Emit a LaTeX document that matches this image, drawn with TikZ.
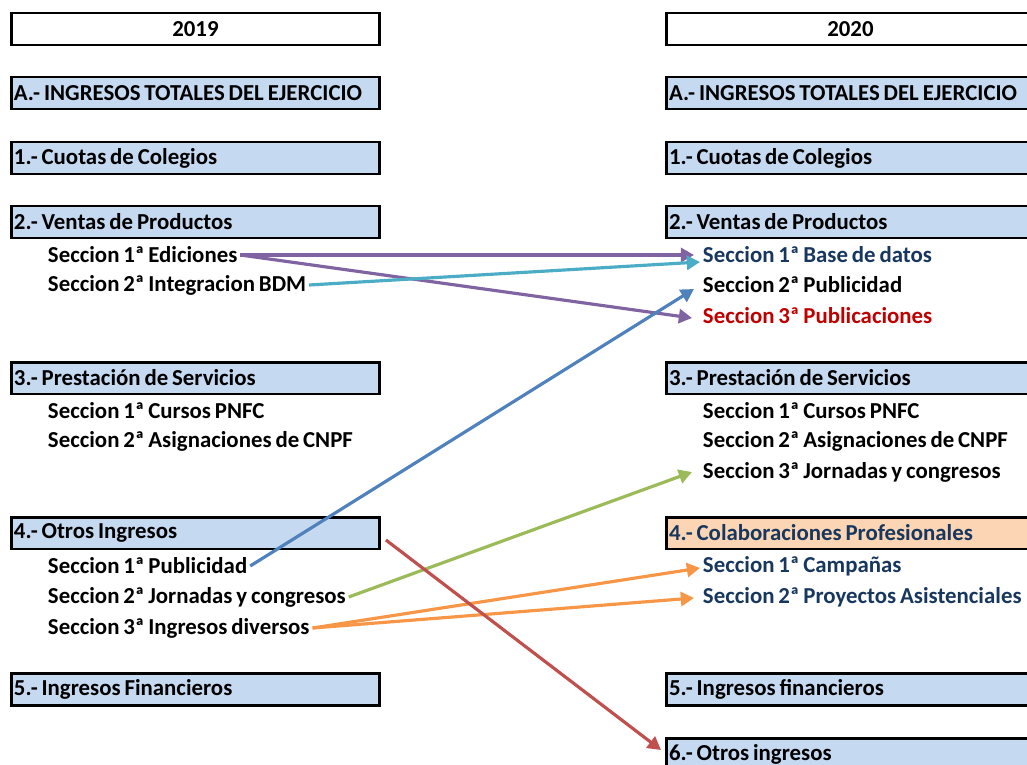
\documentclass[tikz,border=0pt]{standalone}
\usepackage{fontspec}
\setmainfont{Carlito}[WordSpace=0.75]
\usetikzlibrary{arrows.meta}
\hyphenpenalty=10000
\definecolor{boxblue}{RGB}{197,217,241}
\definecolor{boxpeach}{RGB}{252,213,180}
\definecolor{navy}{RGB}{23,55,94}
\definecolor{darkred}{RGB}{192,0,0}
\definecolor{apurple}{RGB}{128,100,162}
\definecolor{acyan}{RGB}{75,172,198}
\definecolor{ablue}{RGB}{79,129,189}
\definecolor{agreen}{RGB}{155,187,89}
\definecolor{aorange}{RGB}{247,150,70}
\definecolor{ared}{RGB}{192,80,77}

\begin{document}
\begin{tikzpicture}[x=0.02cm,y=-0.02cm,
  every node/.style={font=\fontsize{13}{15}\selectfont\bfseries},
  yearbox/.style={draw,line width=1.7pt,fill=white,anchor=west,
    minimum width=7.36cm,minimum height=0.64cm,inner xsep=0.05cm,
    text width=7.26cm,align=center},
  secbox/.style={yearbox,fill=boxblue,align=flush left},
  item/.style={anchor=west,inner sep=1.5pt},
  link/.style={line width=1.8pt,-{Triangle[length=7.5pt,width=8pt]}}
]
\useasboundingbox (0,0) rectangle (1027,764);

% 2019
\node[yearbox] (ly) at (10,29) {2019};
\foreach \n/\y/\t in {lA/93/A.- INGRESOS TOTALES DEL EJERCICIO,
    l1/158/1.- Cuotas de Colegios, l2/222/2.- Ventas de Productos,
    l3/378/3.- Prestación de Servicios, l4/533/4.- Otros Ingresos,
    l5/689/5.- Ingresos Financieros}
  \node[secbox] (\n) at (10,\y) {\t};
\foreach \n/\y/\t in {l2a/255/Seccion 1ª Ediciones,
    l2b/285/Seccion 2ª Integracion BDM, l3a/411/Seccion 1ª Cursos PNFC,
    l3b/441/Seccion 2ª Asignaciones de CNPF, l4a/566/Seccion 1ª Publicidad,
    l4b/597/Seccion 2ª Jornadas y congresos,
    l4c/628/Seccion 3ª Ingresos diversos}
  \node[item] (\n) at (45,\y) {\t};

% 2020
\node[yearbox] (ry) at (665,29) {2020};
\foreach \n/\y/\t in {rA/93/A.- INGRESOS TOTALES DEL EJERCICIO,
    r1/158/1.- Cuotas de Colegios, r2/222/2.- Ventas de Productos,
    r3/378/3.- Prestación de Servicios, r5/689/5.- Ingresos financieros,
    r6/754/6.- Otros ingresos}
  \node[secbox] (\n) at (665,\y) {\t};
\node[secbox,fill=boxpeach,text=navy] (r4) at (665,533)
  {4.- Colaboraciones Profesionales};
\foreach \n/\y/\c/\t in {r2a/255/navy/Seccion 1ª Base de datos,
    r2b/285/black/Seccion 2ª Publicidad,
    r2c/316/darkred/Seccion 3ª Publicaciones,
    r3a/411/black/Seccion 1ª Cursos PNFC,
    r3b/441/black/Seccion 2ª Asignaciones de CNPF,
    r3c/472/black/Seccion 3ª Jornadas y congresos,
    r4a/566/navy/Seccion 1ª Campañas,
    r4b/597/navy/Seccion 2ª Proyectos Asistenciales}
  \node[item,text=\c] (\n) at (700,\y) {\t};

% Arrows
\draw[link,apurple] (l2a.east) -- ([shift={(-6,0)}]r2a.west);
\draw[link,apurple] (l2a.east) -- ([shift={(-8,2)}]r2c.west);
\draw[link,acyan] (l2b.east) -- ([shift={(0,7)}]r2a.west);
\draw[link,ablue] (l4a.east) -- ([shift={(-6,4)}]r2b.west);
\draw[link,agreen] (l4b.east) -- ([shift={(-8,0)}]r3c.west);
\draw[link,aorange] (l4c.east) -- ([shift={(0,2)}]r4a.west);
\draw[link,aorange] (l4c.east) -- ([shift={(-6,1)}]r4b.west);
\draw[link,ared] ([shift={(5,7)}]l4.east) -- ([shift={(-4,-4)}]r6.west);
\end{tikzpicture}
\end{document}
